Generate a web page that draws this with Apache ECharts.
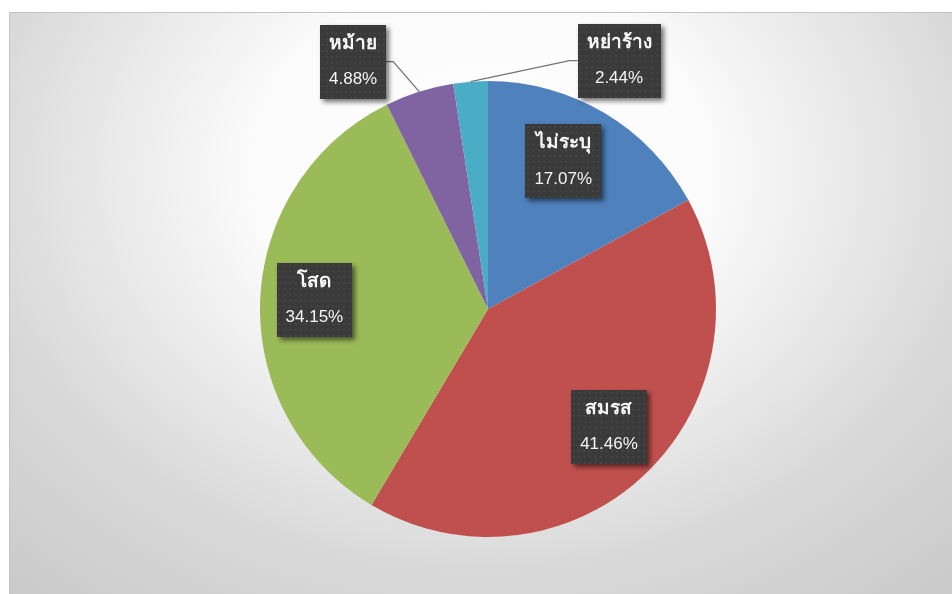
<!DOCTYPE html>
<html>
<head>
<meta charset="utf-8">
<script src="https://cdn.jsdelivr.net/npm/echarts@6/dist/echarts.min.js"></script>
<style>
  html, body { margin: 0; padding: 0; background: #ffffff; }
  #chart { width: 952px; height: 594px; }
</style>
</head>
<body>
<div id="chart"></div>
<script>
// Marital status breakdown (head counts)
const categories = ['ไม่ระบุ', 'สมรส', 'โสด', 'หม้าย', 'หย่าร้าง'];
const counts = [7, 17, 14, 2, 1];
const sliceColors = ['#4f81bd', '#c0504d', '#9bbb59', '#8064a2', '#4bacc6'];

const total = counts.reduce((a, b) => a + b, 0);

// pie geometry (pixels)
const CX = 488, CY = 309, R = 228;

// big slices carry their label inside, part way out along the radius
// (with a small per-label nudge); thin slices get an elbowed callout
const insideRadiusFactor = 0.74;
const insideNudge = { 0: [-11, -3], 1: [4, -4], 2: [-5, -3] };
const callouts = {
  3: { dx: -26, dy: -30, run: -9, gap: 2, align: 'right' },
  4: { dx: 99, dy: -21, run: 8, gap: 0, align: 'left' }
};

function midAngle(i) { // radians, clockwise from 12 o'clock
  let before = 0;
  for (let k = 0; k < i; k++) before += counts[k];
  return (before + counts[i] / 2) / total * Math.PI * 2;
}

// dark dotted tile used behind the data labels
function dottedTile() {
  const c = document.createElement('canvas');
  c.width = 84; c.height = 76;
  const g = c.getContext('2d');
  g.fillStyle = '#3a3a3a';
  g.fillRect(0, 0, c.width, c.height);
  g.fillStyle = '#464646';
  for (let y = 2; y < c.height; y += 6) {
    for (let x = 2; x < c.width; x += 6) g.fillRect(x, y, 2, 2);
  }
  return c;
}
const tile = dottedTile();

const pieData = categories.map((name, i) => {
  const item = { name: name, value: counts[i], itemStyle: { color: sliceColors[i] } };
  if (callouts[i]) {
    item.label = { position: 'outside' };
    item.labelLine = { show: true };
  }
  return item;
});

const chart = echarts.init(document.getElementById('chart'), null, { renderer: 'canvas' });

chart.setOption({
  animation: false,
  graphic: [
    {
      // soft radial backdrop of the plot frame (squashed vertically)
      type: 'rect',
      z: -10,
      silent: true,
      scaleY: 0.8,
      shape: { x: 9, y: 13 / 0.8, width: 960, height: 600 / 0.8 },
      style: {
        fill: {
          type: 'radial', global: true,
          x: 480, y: 170 / 0.8, r: 760,
          colorStops: [
            { offset: 0, color: '#ffffff' },
            { offset: 0.3, color: '#fbfbfb' },
            { offset: 0.66, color: '#d9d9d9' },
            { offset: 1, color: '#c6c6c6' }
          ]
        }
      }
    },
    {
      type: 'rect',
      z: -9,
      silent: true,
      shape: { x: 9.5, y: 12.5, width: 960, height: 600 },
      style: { fill: null, stroke: '#c4c4c4', lineWidth: 1 }
    }
  ],
  series: [{
    type: 'pie',
    center: [CX, CY],
    radius: [0, R],
    startAngle: 90,
    clockwise: true,
    avoidLabelOverlap: false,
    data: pieData,
    itemStyle: { borderWidth: 0 },
    emphasis: { disabled: true },
    label: {
      show: true,
      position: 'inside',
      formatter: p => '{n|' + p.name + '}\n{p|' + (p.value / total * 100).toFixed(2) + '%}',
      backgroundColor: { image: tile },
      padding: [1, 9],
      shadowColor: 'rgba(0,0,0,0.55)',
      shadowBlur: 5,
      shadowOffsetX: 3,
      shadowOffsetY: 3,
      rich: {
        n: { fontFamily: 'Liberation Sans, Arial, sans-serif', fontSize: 19, fontWeight: 'bold', color: '#f8f8f8', lineHeight: 36, align: 'center' },
        p: { fontFamily: 'Liberation Sans, Arial, sans-serif', fontSize: 17, color: '#f4f4f4', lineHeight: 36, align: 'center' }
      }
    },
    labelLine: {
      show: false,
      lineStyle: { color: '#747474', width: 1.3 }
    },
    labelLayout: function (params) {
      const i = params.dataIndex;
      const a = midAngle(i);
      const s = Math.sin(a), c = Math.cos(a);
      const o = callouts[i];
      if (!o) {
        const n = insideNudge[i] || [0, 0];
        return {
          x: CX + insideRadiusFactor * R * s + n[0],
          y: CY - insideRadiusFactor * R * c + n[1],
          align: 'center',
          verticalAlign: 'middle'
        };
      }
      const ax = CX + R * s, ay = CY - R * c;
      const ex = ax + o.dx, ey = ay + o.dy;
      const lx = ex + o.run;
      return {
        x: lx + o.gap,
        y: ey,
        align: o.align,
        verticalAlign: 'middle',
        labelLinePoints: [[ax, ay], [ex, ey], [lx, ey]]
      };
    }
  }]
});
</script>
</body>
</html>
